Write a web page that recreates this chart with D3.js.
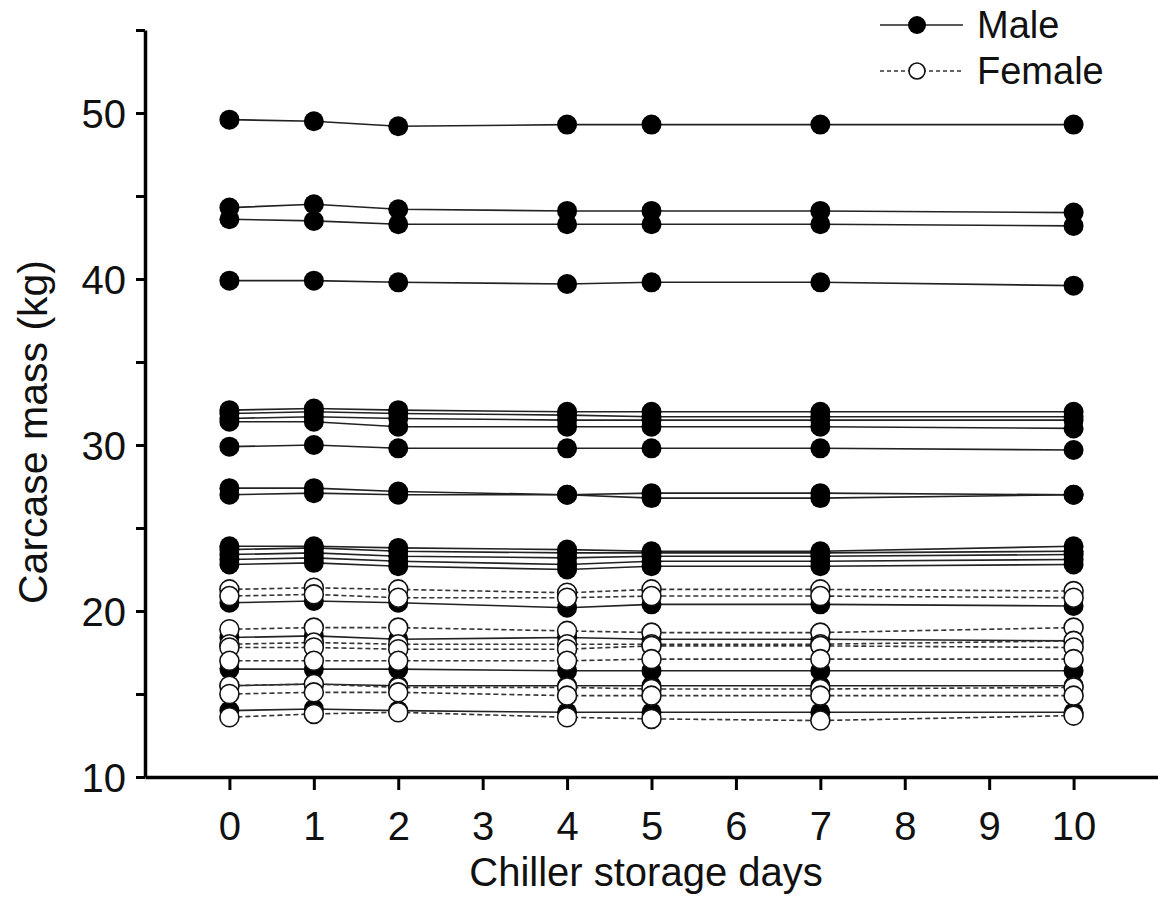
<!DOCTYPE html>
<html>
<head>
<meta charset="utf-8">
<script src="https://cdn.jsdelivr.net/npm/d3@7"></script>
<style>
  body { margin: 0; background: #fff; }
  svg { display: block; font-family: "Liberation Sans", Arial, sans-serif; }
</style>
</head>
<body>
<svg width="1158" height="899"></svg>
<script>
const svg = d3.select('svg')

// storage days sampled
const days = [0, 1, 2, 4, 5, 7, 10]
const xTicks = [0, 1, 2, 3, 4, 5, 6, 7, 8, 9, 10]
const yTicks = [10, 15, 20, 25, 30, 35, 40, 45, 50, 55]
const yLabels = [10, 20, 30, 40, 50]

// male carcases (kg)
const male = [
  [49.6, 49.5, 49.2, 49.3, 49.3, 49.3, 49.3],
  [44.3, 44.5, 44.2, 44.1, 44.1, 44.1, 44.0],
  [43.6, 43.5, 43.3, 43.3, 43.3, 43.3, 43.2],
  [39.9, 39.9, 39.8, 39.7, 39.8, 39.8, 39.6],
  [32.1, 32.2, 32.1, 32.0, 32.0, 32.0, 32.0],
  [31.9, 32.0, 31.9, 31.8, 31.7, 31.7, 31.7],
  [31.6, 31.7, 31.6, 31.5, 31.5, 31.5, 31.5],
  [31.4, 31.4, 31.1, 31.1, 31.1, 31.1, 31.0],
  [29.9, 30.0, 29.8, 29.8, 29.8, 29.8, 29.7],
  [27.4, 27.4, 27.2, 27.0, 27.1, 27.1, 27.0],
  [27.0, 27.1, 27.0, 27.0, 26.8, 26.8, 27.0],
  [23.9, 23.9, 23.8, 23.7, 23.6, 23.6, 23.9],
  [23.7, 23.8, 23.6, 23.5, 23.5, 23.5, 23.6],
  [23.4, 23.5, 23.3, 23.2, 23.3, 23.3, 23.4],
  [23.1, 23.2, 23.0, 22.8, 23.0, 23.0, 23.1],
  [22.8, 22.9, 22.7, 22.5, 22.7, 22.7, 22.8],
  [20.5, 20.6, 20.5, 20.2, 20.4, 20.4, 20.3],
  [18.4, 18.5, 18.3, 18.4, 18.3, 18.3, 18.2],
  [16.5, 16.5, 16.5, 16.4, 16.4, 16.4, 16.4],
  [15.5, 15.6, 15.5, 15.5, 15.5, 15.5, 15.5],
  [14.0, 14.1, 14.0, 13.9, 13.9, 13.9, 13.9]
]

// female carcases (kg)
const female = [
  [21.3, 21.4, 21.3, 21.1, 21.3, 21.3, 21.2],
  [20.9, 21.0, 20.8, 20.8, 20.9, 20.9, 20.8],
  [18.9, 19.0, 19.0, 18.8, 18.7, 18.7, 19.0],
  [18.0, 18.1, 18.0, 18.0, 18.0, 18.0, 18.2],
  [17.8, 17.8, 17.7, 17.7, 17.9, 17.9, 17.8],
  [17.0, 17.0, 17.0, 17.0, 17.1, 17.1, 17.1],
  [15.5, 15.6, 15.4, 15.4, 15.3, 15.3, 15.4],
  [15.0, 15.1, 15.1, 14.9, 14.9, 14.9, 14.9],
  [13.6, 13.8, 13.9, 13.6, 13.5, 13.4, 13.7]
]

const xScale = d3.scaleLinear().domain([-1, 11]).range([145, 1158])
const yScale = d3.scaleLinear().domain([10, 55]).range([777, 30])

// AXES
const xAxis = d3.axisBottom(xScale)
  .tickValues(xTicks)
  .tickSize(13)
  .tickSizeOuter(0)
  .tickPadding(22)

const yAxis = d3.axisLeft(yScale)
  .tickValues(yTicks)
  .tickSize(9)
  .tickSizeOuter(0)
  .tickPadding(10)
  .tickFormat(d => yLabels.includes(d) ? d : '')

const gx = svg.append('g')
  .attr('transform', `translate(0,${yScale(10)})`)
  .call(xAxis)
gx.select('.domain').attr('stroke-width', 3.5)
gx.selectAll('.tick line').attr('stroke-width', 3)
gx.selectAll('.tick text').style('font-size', '40px').attr('fill', '#111')

const gy = svg.append('g')
  .attr('transform', `translate(${xScale(-1)},0)`)
  .call(yAxis)
gy.select('.domain').attr('stroke-width', 3.5)
gy.selectAll('.tick line').attr('stroke-width', 3)
gy.selectAll('.tick text').style('font-size', '40px').attr('fill', '#111').attr('dy', '0.36em')

// axis titles
svg.append('text')
  .text('Chiller storage days')
  .attr('text-anchor', 'middle')
  .attr('x', 646)
  .attr('y', 886)
  .attr('fill', '#111')
  .style('font-size', '40px')

svg.append('text')
  .text('Carcase mass (kg)')
  .attr('text-anchor', 'middle')
  .attr('transform', 'translate(47,432) rotate(-90)')
  .attr('fill', '#111')
  .style('font-size', '41px')

// SERIES
const line = d3.line()
  .x((d, i) => xScale(days[i]))
  .y(d => yScale(d))

const maleG = svg.append('g')
maleG.selectAll('path')
  .data(male)
  .enter().append('path')
    .attr('d', line)
    .attr('fill', 'none')
    .attr('stroke', '#222')
    .attr('stroke-width', 1.6)

male.forEach(s => {
  maleG.append('g').selectAll('circle')
    .data(s)
    .enter().append('circle')
      .attr('cx', (d, i) => xScale(days[i]))
      .attr('cy', d => yScale(d))
      .attr('r', 10)
      .attr('fill', '#000')
})

const femaleG = svg.append('g')
femaleG.selectAll('path')
  .data(female)
  .enter().append('path')
    .attr('d', line)
    .attr('fill', 'none')
    .attr('stroke', '#333')
    .attr('stroke-width', 1.6)
    .attr('stroke-dasharray', '5,3')

female.forEach(s => {
  femaleG.append('g').selectAll('circle')
    .data(s)
    .enter().append('circle')
      .attr('cx', (d, i) => xScale(days[i]))
      .attr('cy', d => yScale(d))
      .attr('r', 9.5)
      .attr('fill', '#fff')
      .attr('stroke', '#111')
      .attr('stroke-width', 1.6)
})

// LEGEND
const legend = svg.append('g')
legend.append('line')
  .attr('x1', 880).attr('x2', 963).attr('y1', 25).attr('y2', 25)
  .attr('stroke', '#222').attr('stroke-width', 1.6)
legend.append('circle')
  .attr('cx', 917).attr('cy', 25).attr('r', 9).attr('fill', '#000')
legend.append('text')
  .text('Male').attr('x', 977).attr('y', 38)
  .attr('fill', '#111').style('font-size', '38px')

legend.append('line')
  .attr('x1', 880).attr('x2', 963).attr('y1', 71).attr('y2', 71)
  .attr('stroke', '#333').attr('stroke-width', 1.5).attr('stroke-dasharray', '4,3')
legend.append('circle')
  .attr('cx', 917).attr('cy', 71).attr('r', 8)
  .attr('fill', '#fff').attr('stroke', '#111').attr('stroke-width', 1.6)
legend.append('text')
  .text('Female').attr('x', 977).attr('y', 84)
  .attr('fill', '#111').style('font-size', '38px')
</script>
</body>
</html>
